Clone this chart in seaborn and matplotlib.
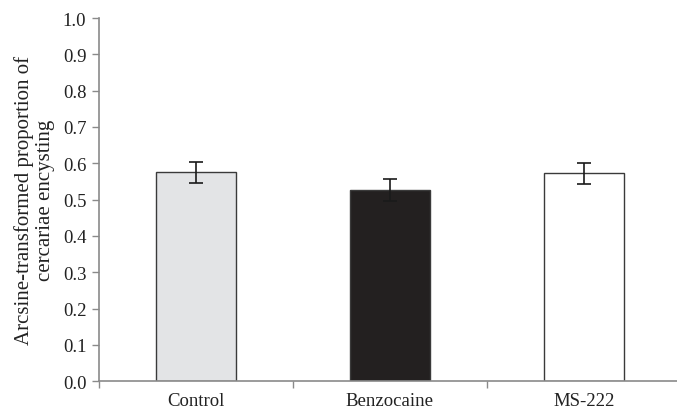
import numpy as np
import seaborn as sns
import matplotlib.pyplot as plt

# data
groups = ["Control", "Benzocaine", "MS-222"]
means = [0.575, 0.527, 0.573]
errors = [0.029, 0.030, 0.029]
bar_colors = ["#e3e4e6", "#231f20", "#ffffff"]

sns.set_theme(style="white")
plt.rcParams['font.family'] = ['Liberation Serif', 'DejaVu Serif']

fig = plt.figure(figsize=(6.77, 4.14), dpi=100)
ax = fig.add_axes([0.146, 0.077, 0.854, 0.877])

sns.barplot(x=groups, y=means, hue=groups, palette=bar_colors, legend=False,
            width=0.41, edgecolor="#3a3a3a", linewidth=1.0, ax=ax)
ax.errorbar(np.arange(len(groups)), means, yerr=errors, fmt="none",
            ecolor="#1a1a1a", elinewidth=1.2, capsize=5, capthick=1.2)

ax.set_xlim(-0.5, 2.48)
ax.set_ylim(0, 1.0)
ax.set_yticks(np.arange(0, 1.01, 0.1))
ax.set_yticklabels([f"{v:.1f}" for v in np.arange(0, 1.01, 0.1)], fontsize=13.5, color="#222222")
ax.set_xticks(range(len(groups)))
ax.set_xticklabels(groups, fontsize=13.5, color="#222222")
ax.set_xticks([-0.5, 0.5, 1.5], minor=True)
ax.tick_params(axis="x", which="major", length=0, pad=8)
ax.tick_params(axis="x", which="minor", length=5, color="#8a8a8a", width=1, direction="out", bottom=True)
ax.tick_params(axis="y", length=5, color="#8a8a8a", width=1, direction="out", left=True, pad=4)

for side in ["top", "right"]:
    ax.spines[side].set_visible(False)
for side in ["left", "bottom"]:
    ax.spines[side].set_color("#8a8a8a")
    ax.spines[side].set_linewidth(1.2)

ax.set_xlabel("")
ax.set_ylabel("Arcsine-transformed proportion of\ncercariae encysting", fontsize=15,
              color="#222222", linespacing=1.1, labelpad=6)

fig.savefig("out.png", dpi=100)
